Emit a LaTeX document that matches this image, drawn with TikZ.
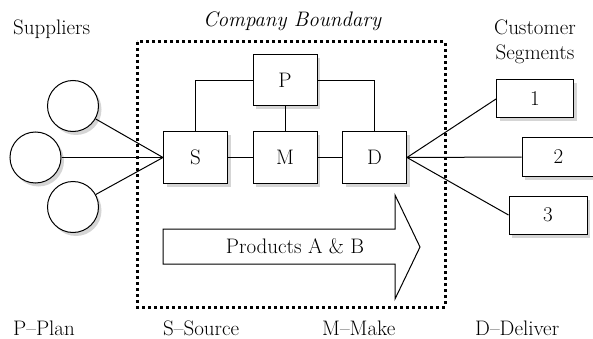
\documentclass[tikz,border=0pt]{standalone}
\usepackage{tikz}
\usetikzlibrary{shadows,calc}
\begin{document}
\begin{tikzpicture}[x=1pt,y=-1pt,
  every node/.style={font=\fontsize{21}{24}\selectfont},
  shade/.style={drop shadow={shadow xshift=3pt,shadow yshift=-3.5pt,opacity=0.3,fill=black!55}},
  box/.style={draw,line width=1pt,fill=white,shade,minimum width=64pt,minimum height=51pt,inner sep=0pt},
  seg/.style={draw,line width=1pt,fill=white,shade,minimum height=38pt,inner sep=0pt},
  supp/.style={draw,circle,line width=1pt,fill=white,shade,minimum size=51pt,inner sep=0pt},
  link/.style={line width=1pt},
  lbl/.style={anchor=base west,inner sep=0pt}]
\useasboundingbox (0,0) rectangle (593,339);
% boundary
\draw[line width=3pt,dash pattern=on 3pt off 3pt] (137,42) rectangle (445,307);
\node[anchor=base,inner sep=0pt,font=\fontsize{21}{24}\selectfont\itshape] (cb) at (292,27) {Company Boundary};
\node[lbl] (sup) at (13,35) {Suppliers};
\node[anchor=base,inner sep=0pt] (cs1) at (535,35) {Customer};
\node[anchor=base,inner sep=0pt] (cs2) at (535,60) {Segments};
% supply chain boxes
\node[box] (P) at (285,80.5) {P};
\node[box] (S) at (195.5,157.5) {S};
\node[box] (M) at (285,157.5) {M};
\node[box] (D) at (374.5,157.5) {D};
\draw[link] (S.north) |- (P.west);
\draw[link] (P.east) -| (D.north);
\draw[link] (P.south) -- (M.north);
\draw[link] (S) -- (M);
\draw[link] (M) -- (D);
% suppliers
\node[supp] (c1) at (73,106) {};
\node[supp] (c2) at (35.5,157.5) {};
\node[supp] (c3) at (73,207) {};
\foreach \c in {c1,c2,c3}
  \draw[link] (\c) -- (S.west);
% customers
\node[seg,minimum width=77pt] (k1) at (535,99) {1};
\node[seg,minimum width=73pt] (k2) at (558.5,157) {2};
\node[seg,minimum width=78pt] (k3) at (548,215) {3};
\draw[link] (D.east) -- (k1.west);
\draw[link] (D.east) -- (k2.west);
\draw[link] (D.east) -- (k3.west);
% product arrow
\coordinate (a1) at (163,229);
\coordinate (a2) at (395,229);
\coordinate (a3) at (395,195);
\coordinate (tip) at (420,247);
\coordinate (a4) at (395,299);
\coordinate (a5) at (395,264);
\coordinate (a6) at (163,264);
\draw[link,fill=white] (a1) -- (a2) -- (a3) -- (tip) -- (a4) -- (a5) -- (a6) -- cycle;
\node (prod) at (295,246.5) {Products A \& B};
% legend
\node[lbl] (lp) at (13,335) {P--Plan};
\node[lbl] (ls) at (163,335) {S--Source};
\node[lbl] (lm) at (322,335) {M--Make};
\node[lbl] (ld) at (475,335) {D--Deliver};
\end{tikzpicture}
\end{document}
